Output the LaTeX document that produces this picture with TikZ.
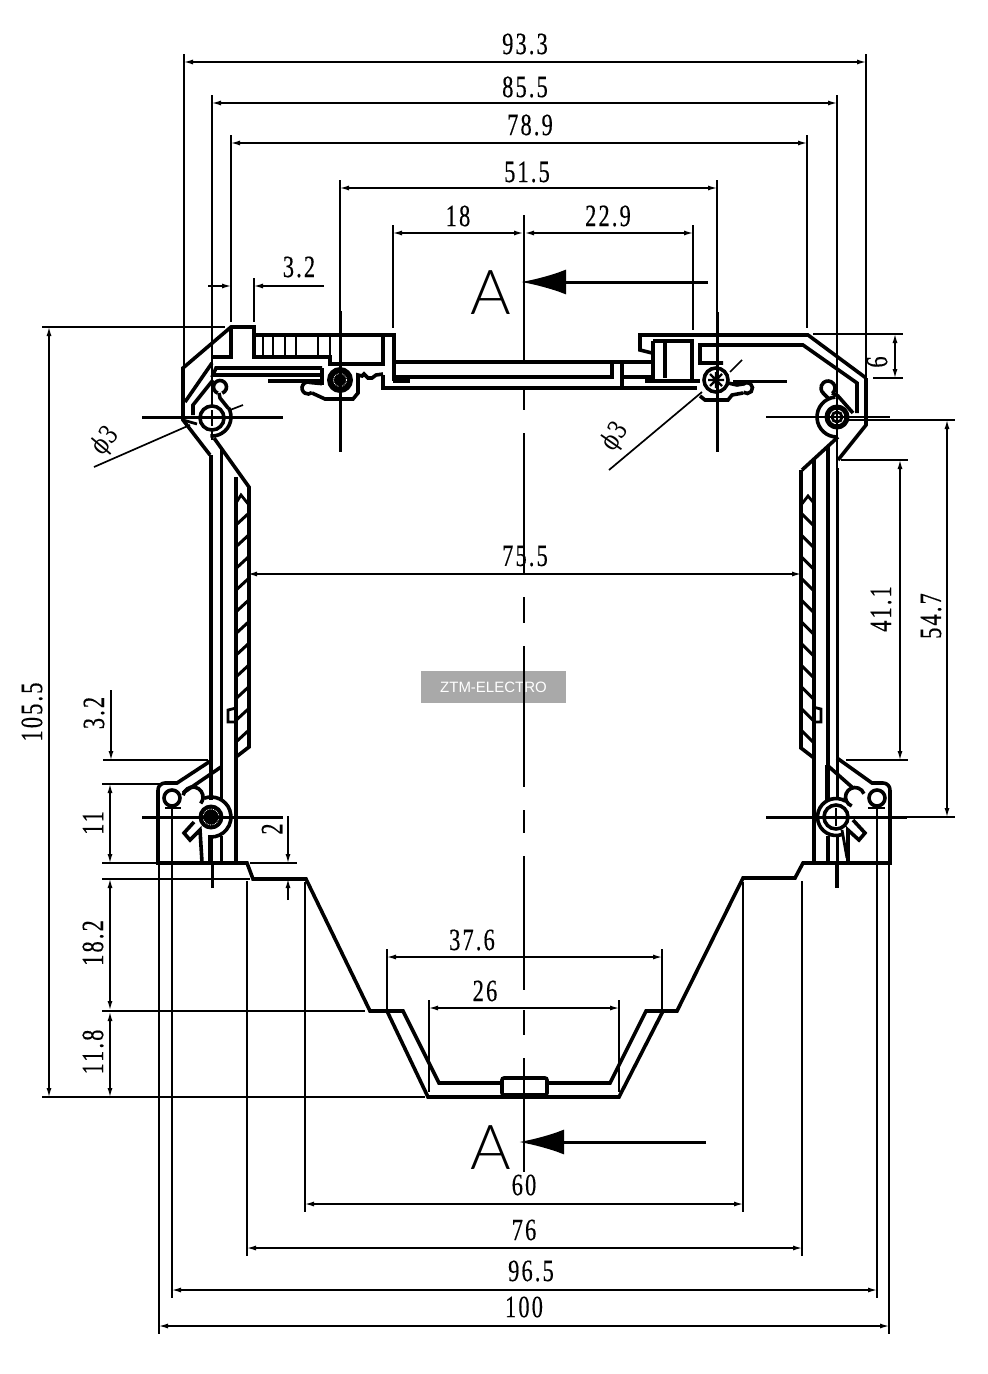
\documentclass[tikz,border=0pt]{standalone}
\usepackage{fontspec}
\usetikzlibrary{arrows.meta}
\setmainfont[FakeStretch=0.72,LetterSpace=7,FakeBold=0.35]{Liberation Serif}
\newfontfamily\bigA{Lato Light}
\newfontfamily\wmfont{Liberation Sans}
\newfontfamily\phifont[FakeStretch=0.8]{DejaVu Serif}
\definecolor{wmgrey}{HTML}{A9A9A9}
\newcommand{\carc}[5]{(#1,#2) ++(#4:#3) arc[start angle=#4,end angle=#5,radius=#3]}
\tikzset{
  outl/.style={line width=3.6pt,line join=miter},
  thick2/.style={line width=2.8pt},
  dimline/.style={line width=1.8pt},
  extl/.style={line width=1.7pt},
  dimar/.style={dimline,{Latex[length=10pt,width=5pt]}-{Latex[length=10pt,width=5pt]}},
  oneend/.style={dimline,-{Latex[length=10pt,width=5pt]}},
  lbl/.style={inner sep=0pt,font=\fontsize{31}{31}\selectfont},
  lblv/.style={lbl,rotate=90},
  aletter/.style={inner sep=0pt,font=\bigA\fontsize{62}{62}\selectfont},
  bigarrow/.style={line width=3pt,-{Latex[length=45pt,width=25pt]}},
  cline/.style={line width=3pt},
}
\begin{document}
\begin{tikzpicture}[x=1pt,y=-1pt]
\useasboundingbox (0,0) rectangle (988,1374);
\fill[white] (0,0) rectangle (988,1374);
% watermark
\node[fill=wmgrey,text=white,minimum width=145pt,minimum height=32pt,inner sep=0pt,font=\wmfont\fontsize{15}{15}\selectfont] (wm) at (493.5,687) {ZTM-ELECTRO};
% centre line
\foreach \a/\b in {215/362,389/410,433/574,597/623,646/787,810/833,856/990,1010/1035,1058/1172}
  \draw[extl] (524,\a) -- (524,\b);
% ---- dimension and extension lines
\draw[extl] (184,54)--(184,420) (866,54)--(866,378);
\draw[extl] (212,95)--(212,440) (837,95)--(837,800);
\draw[extl] (231,135)--(231,322) (807,135)--(807,328);
\draw[extl] (340,180)--(340,311) (717,180)--(717,312);
\draw[extl] (393,225)--(393,328) (693,225)--(693,330);
\draw[dimar] (183,62)--(867,62);
\draw[dimar] (211,103)--(838,103);
\draw[dimar] (230,143)--(808,143);
\draw[dimar] (339,188)--(718,188);
\draw[dimar] (392,233)--(524,233);
\draw[dimar] (524,233)--(694,233);
\draw[oneend] (208,286)--(232,286);
\draw[oneend] (324,286)--(253,286);
\draw[extl] (231,262)--(231,322) (254,278)--(254,322);
% right side
\draw[extl] (813,334)--(903,334) (873,378)--(903,378);
\draw[dimar] (895,333)--(895,379);
\draw[extl] (841,460)--(908,460) (846,760)--(908,760);
\draw[dimar] (900,459)--(900,761);
\draw[extl] (845,420)--(955,420);
\draw[dimar] (947,419)--(947,818);
\draw[extl] (766,417)--(890,417);
% inner width
\draw[dimar] (247,574)--(802,574);
% left side
\draw[extl] (42,327)--(225,327) (42,1097)--(425,1097);
\draw[dimar] (49,326)--(49,1098);
\draw[oneend] (111,690)--(111,761);
\draw[extl] (103,760)--(208,760) (102,784)--(165,784) (102,863)--(158,863) (102,879)--(250,879) (102,1011)--(365,1011);
\draw[dimar] (110,783)--(110,864);
\draw[dimar] (110,878)--(110,1011);
\draw[dimar] (110,1011)--(110,1098);
% the "2"
\draw[extl] (250,863)--(297,863) (253,879)--(295,879);
\draw[oneend] (288,816)--(288,864);
\draw[oneend] (288,900)--(288,878);
% bottom
\draw[extl] (387,949)--(387,1010) (662,949)--(662,1010);
\draw[dimar] (386,957)--(663,957);
\draw[extl] (429,1000)--(429,1092) (619,1000)--(619,1092);
\draw[dimar] (428,1008)--(620,1008);
\draw[extl] (305,882)--(305,1212) (743,882)--(743,1212);
\draw[dimar] (304,1204)--(744,1204);
\draw[extl] (247,881)--(247,1256) (802,881)--(802,1256);
\draw[dimar] (246,1248)--(803,1248);
\draw[extl] (172,806)--(172,1298) (877,806)--(877,1298);
\draw[dimar] (171,1290)--(878,1290);
\draw[extl] (159,865)--(159,1334) (889,865)--(889,1334);
\draw[dimar] (158,1326)--(890,1326);
% leaders
\draw[extl] (94,467)--(190,425) (230,410)--(243,405);
\draw[extl] (609,470)--(702,392) (730,372)--(742,360);
% ---- labels
\node[lbl] (d1) at (525,44) {93.3};
\node[lbl] (d2) at (525,87) {85.5};
\node[lbl] (d3) at (530,125) {78.9};
\node[lbl] (d4) at (527,172) {51.5};
\node[lbl] (d5) at (458,216) {18};
\node[lbl] (d6) at (608,216) {22.9};
\node[lbl] (d7) at (299,267) {3.2};
\node[lbl] (d8) at (525,556) {75.5};
\node[lbl] (d9) at (472,940) {37.6};
\node[lbl] (d10) at (485,991) {26};
\node[lbl] (d11) at (524,1185) {60};
\node[lbl] (d12) at (524,1230) {76};
\node[lbl] (d13) at (531,1271) {96.5};
\node[lbl] (d14) at (524,1307) {100};
\node[lblv] (d15) at (32,712) {105.5};
\node[lblv] (d16) at (94,713) {3.2};
\node[lblv] (d17) at (93,823) {11};
\node[lblv] (d18) at (93,943) {18.2};
\node[lblv] (d19) at (93,1052) {11.8};
\node[lblv] (d20) at (272,829) {2};
\node[lblv] (d21) at (877,362) {6};
\node[lblv] (d22) at (881,609) {41.1};
\node[lblv] (d23) at (931,616) {54.7};
\node[inner sep=0pt,rotate=50,font=\phifont\fontsize{26}{26}\selectfont] (p1) at (106,441) {ϕ3};
\node[inner sep=0pt,rotate=55,font=\phifont\fontsize{26}{26}\selectfont] (p2) at (615,437) {ϕ3};
% section arrows
\node[aletter] (a1) at (491,293) {A};
\node[aletter] (a2) at (491,1148) {A};
\coordinate (t1) at (521,282); \coordinate (s1) at (708,282);
\coordinate (t2) at (519,1142); \coordinate (s2) at (706,1142);
\draw[bigarrow] (s1)--(t1);
\draw[bigarrow] (s2)--(t2);
% ======= body outline
\draw[outl] \carc{165}{790}{7}{180}{270} -- (177,783) -- (212,760);
\draw[outl] (158,790)--(158,863)--(247,863)--(253,879)--(306,879)--(370,1011)--(403,1011)--(439,1083)--(610,1083)--(646,1011)--(677,1011)--(743,878)--(795,878)--(803,863)--(890,863)--(890,790);
\draw[outl] \carc{883}{790}{7}{0}{-90} -- (872,783)--(837,758);
\draw[outl] (387,1011)--(428,1097)--(619,1097)--(663,1011);
\draw[outl,rounded corners=2pt,fill=white] (502,1078) rectangle (547,1095);
\draw[extl] (524,1076)--(524,1097);
% lower-left details
\draw[outl] (221,767)--(183,793);
\draw[outl] (827,765)--(853,788);
\draw[outl] (827,765)--(827,800);
\draw[outl] (172,798) circle[radius=8];
\draw[outl] (877,798) circle[radius=8];
\draw[thick2] (165,808)--(181,808) (868,808)--(885,808);
\draw[outl] \carc{193}{797}{10}{190}{400};
\draw[outl] \carc{855}{797}{9.5}{110}{340};
% walls left
\draw[outl] (211,455)--(211,800) (211,836)--(211,863);
\draw[line width=3pt] (221,449)--(221,800) (221,836)--(221,863);
\draw[outl] (236,477)--(236,863);
\draw[outl] (214,438)--(249,487)--(249,747)--(236,757);
\foreach \k in {0,...,10}{\draw[line width=3pt] (236,{525+21.7*\k})--(249,{513+21.7*\k});}
\draw[thick2] (236,503)--(241,495)--(249,505);
\draw[thick2] (236,708)--(228,710)--(228,722)--(236,722);
% walls right
\draw[outl] (801,470)--(801,748)--(814,758);
\draw[outl] (814,460)--(814,863);
\draw[outl] (828,447)--(828,800) (828,836)--(828,863);
\draw[line width=3pt] (837,468)--(837,800) (837,836)--(837,888);
\foreach \k in {0,...,10}{\draw[line width=3pt] (801,{513+21.7*\k})--(813,{525+21.7*\k});}
\draw[thick2] (801,505)--(808,496)--(813,502);
\draw[thick2] (813,707)--(821,709)--(821,722)--(813,722);
% top left corner
\draw[outl] (210,455)--(183,420)--(183,368)--(231,327)--(254,327)--(254,357)--(330,357)--(330,364)--(383,364)--(383,335);
\draw[thick2] (183,420)--(197,424);
\draw[outl] (231,327)--(231,357)--(212,357);
\draw[outl] (254,335)--(394,335)--(394,381);
\foreach \x in {263,273,285,296,318,330}{\draw[thick2] (\x,335)--(\x,357);}
\draw[outl] (212,363)--(185,402);
\draw[outl] (322,368)--(216,368)--(213,375)--(322,375);
\draw[outl] (213,380)--(193,405)--(193,415);
\draw[outl] (322,368)--(322,385);
\draw[line width=3.6pt] (268,381)--(322,381) (393,381)--(410,381);
% top plate
\draw[outl] (394,362)--(653,362);
\draw[outl] (394,377)--(612,377)--(612,362);
\draw[outl] (622,362)--(622,388);
\draw[outl] (622,377)--(653,377);
\draw[outl] (383,375)--(383,388)--(697,388);
% top right
\draw[outl] (866,378)--(866,425)--(838,460);
\draw[outl] (652,353)--(640,350)--(640,335)--(808,335)--(866,378);
\draw[outl] (653,341)--(692,341)--(692,380);
\draw[outl] (653,341)--(653,380) (665,341)--(665,378);
\draw[line width=3.6pt] (645,381)--(700,381);
\draw[outl] (723,363)--(700,363)--(700,345)--(803,345)--(857,383)--(857,413);
\draw[outl] (838,437)--(802,470);
% ------ clips
\draw[thick2] (322,384)--(311,383);
\draw[outl] \carc{308}{388}{6}{-60}{-310};
\draw[outl] (312,393)--(325,399)--(353,399)--(358,393)--(358,375)--(362,376)--(364,374)--(368,378)--(372,378)--(376,375)--(383,374);
\draw[outl] (700,396)--(705,400)--(728,400)--(732,395)--(743,393);
\draw[outl] \carc{747}{388}{5.5}{130}{-140};
\draw[outl] (743,384)--(737,385)--(728,383);
\draw[outl] \carc{220}{387}{6.5}{110}{430};
\draw[outl] (219,393)--(220,398)--(228,408);
\draw[outl] \carc{212}{417}{19}{-30}{95};
\draw[outl] \carc{828}{388}{7}{50}{-230};
\draw[outl] (823,393)--(829,399);
\draw[outl] (832,393)--(838,396)--(853,413);
\draw[outl] \carc{837}{417}{20}{-95}{-270};
% ------ screws
\fill (340,380) circle[radius=13];
\draw[white,line width=.8pt,densely dotted] (340,380) circle[radius=6.5];
\draw[outl,fill=white] (716,380) circle[radius=12];
\draw[line width=2.2pt] (708,380)--(724,380) (716,372)--(716,388) (710,374)--(722,386) (722,374)--(710,386);
\draw[outl,fill=white] (212,418) circle[radius=12];
\draw[thick2] (204,418)--(220,418) (212,410)--(212,426);
\draw[line width=5pt,fill=white] (837,417) circle[radius=10];
\draw[thick2] (837,417) circle[radius=5];
\draw[extl] (829,417)--(845,417) (837,409)--(837,425);
\draw[outl] \carc{211}{817}{20}{-110}{90};
\fill (211,817) circle[radius=12.5];
\draw[white,line width=.8pt,densely dotted] (211,817) circle[radius=8];
\draw[outl] \carc{836}{817}{18.5}{-60}{-290};
\draw[outl,fill=white] (836,817) circle[radius=12];
\draw[thick2] (827,817)--(845,817) (836,808)--(836,826);
% tabs
\draw[outl] (194,822)--(184,833)--(190,840)--(200,830)--(202,862);
\draw[outl] (210,835)--(210,862);
\draw[outl] (853,820)--(865,833)--(859,840)--(848,830)--(848,862);
\draw[thick2] (842,830)--(847,858);
% centre marks
\draw[cline] (142,417)--(283,417);
\draw[cline] (142,817)--(283,817);
\draw[cline] (766,817)--(907,817);
\draw[extl] (907,817)--(955,817);
\draw[cline] (733,381)--(787,381);
\draw[cline] (340,311)--(340,452);
\draw[cline] (717,312)--(717,452);
\draw[cline] (212,863)--(212,888);
\draw[cline] (836,863)--(836,888);
\end{tikzpicture}
\end{document}
